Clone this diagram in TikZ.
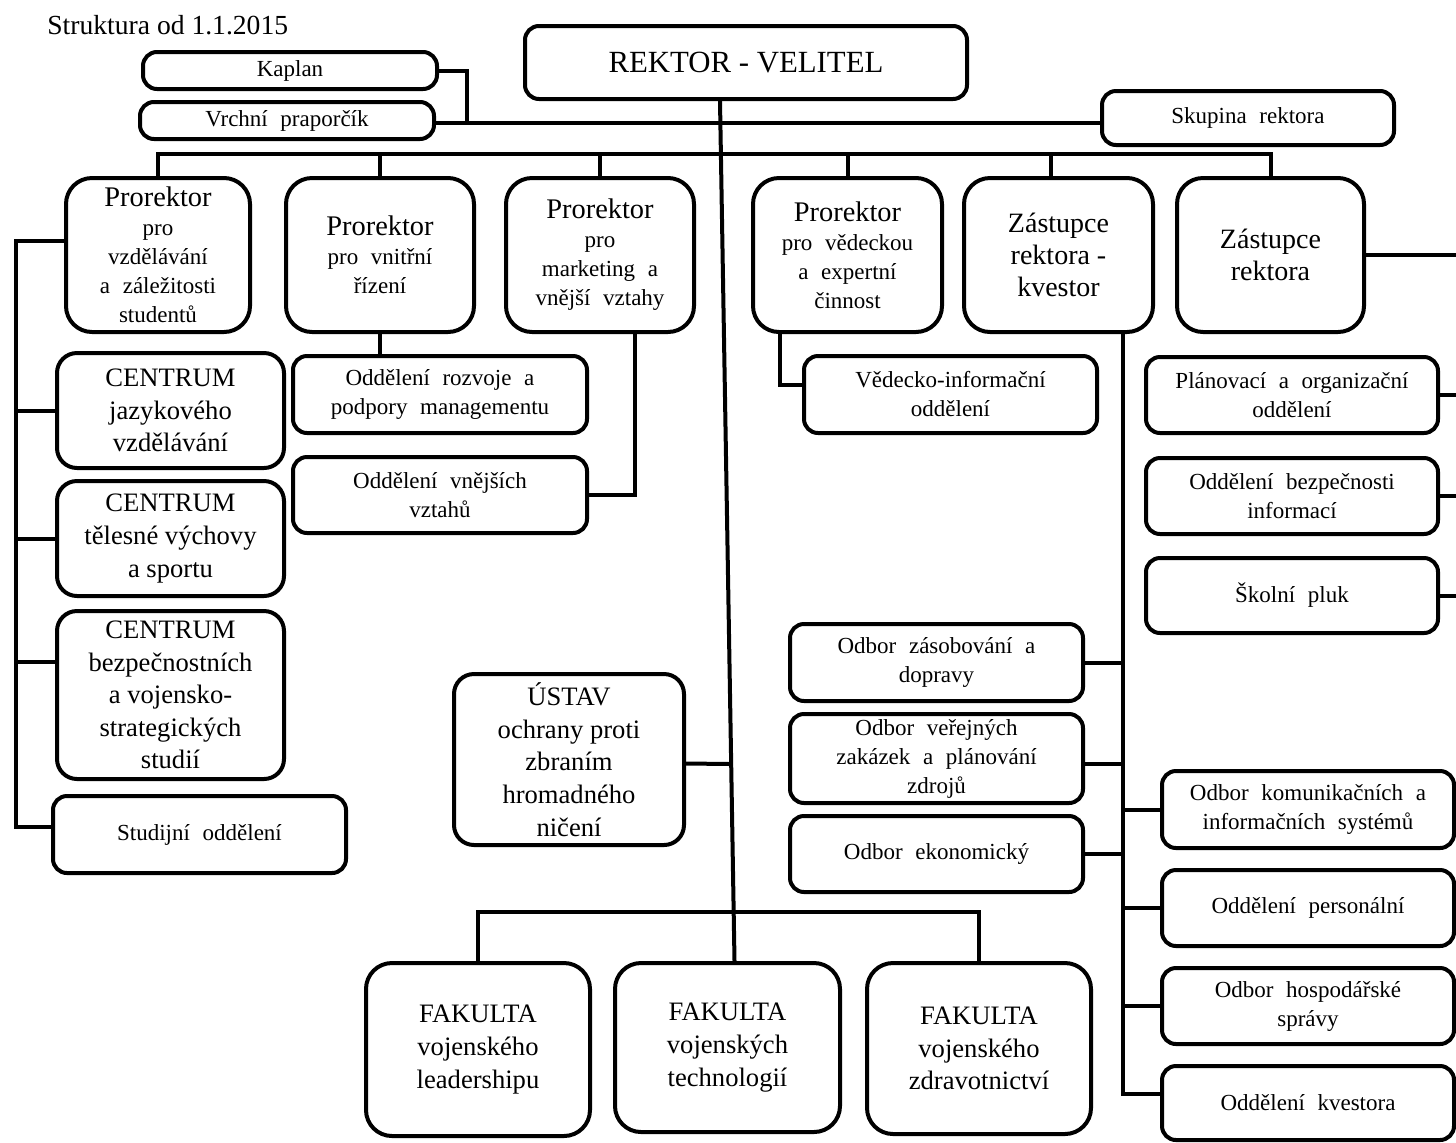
\documentclass[tikz,border=0pt]{standalone}
\usepackage{fontspec}
\setmainfont{Liberation Serif}
\newcommand\fs[2]{\fontsize{#1}{#2}\selectfont}
\newcommand\smfont{\fontsize{11.5}{14.5}\selectfont\spaceskip=0.55em plus 0.2em minus 0.1em\relax}
\tikzset{
  box/.style={draw, line width=2pt, inner sep=0pt, align=center, rounded corners=7pt},
  big/.style={rounded corners=13pt},
  mid/.style={rounded corners=10pt},
  sm/.style={font={\smfont}},
  cfont/.style={font={\fs{13.3}{16.3}}},
  pfont/.style={font={\fs{14}{16}}},
  conn/.style={draw, line width=2pt},
}
\newcommand\bx[7]{\node[box,#6,minimum width={(#4-#2)*0.5pt},minimum height={(#5-#3)*0.5pt}] (#1) at ({(#2+#4)/2},{(#3+#5)/2}) {#7};}
\begin{document}
\begin{tikzpicture}[x=0.5pt,y=-0.5pt]
\useasboundingbox (0,0) rectangle (1456,1142);
\node[anchor=west, font={\fs{13.8}{16}}, inner sep=0pt] (title) at (47,25) {Struktura od 1.1.2015};

\bx{kaplan}{143}{52}{437}{89}{sm}{Kaplan}
\bx{vrchni}{140}{102}{434}{139}{sm}{Vrchní praporčík}
\bx{rektor}{525}{26}{967}{99}{font={\fs{15.4}{18}}}{REKTOR - VELITEL}
\bx{skup}{1102}{91}{1394}{145}{sm}{Skupina rektora}

\bx{p1}{66}{178}{250}{332}{big,sm}{{\fs{14.2}{17}Prorektor}\\ pro\\ vzdělávání\\ a záležitosti\\ studentů}
\bx{p2}{286}{178}{474}{332}{big,sm}{{\fs{14.2}{17}Prorektor}\\ pro vnitřní\\ řízení}
\bx{p3}{506}{178}{694}{332}{big,sm}{{\fs{14.2}{17}Prorektor}\\ pro\\ marketing a\\ vnější vztahy}
\bx{p4}{753}{178}{942}{332}{big,sm}{{\fs{14.2}{17}Prorektor}\\ pro vědeckou\\ a expertní\\ činnost}
\bx{p5}{964}{178}{1153}{332}{big,pfont}{Zástupce\\ rektora -\\ kvestor}
\bx{p6}{1177}{178}{1364}{332}{big,pfont}{Zástupce\\ rektora}

\bx{c1}{57}{353}{284}{468}{mid,cfont}{CENTRUM\\ jazykového\\ vzdělávání}
\bx{c2}{57}{481}{284}{596}{mid,cfont}{CENTRUM\\ tělesné výchovy\\ a sportu}
\bx{c3}{57}{611}{284}{779}{mid,cfont}{CENTRUM\\ bezpečnostních\\ a vojensko-\\ strategických\\ studií}
\bx{stud}{53}{796}{346}{873}{sm}{Studijní oddělení}

\bx{ord}{293}{356}{587}{433}{sm}{Oddělení rozvoje a\\ podpory managementu}
\bx{ovv}{293}{457}{587}{533}{sm}{Oddělení vnějších\\ vztahů}
\bx{vio}{804}{356}{1097}{433}{sm}{Vědecko-informační\\ oddělení}
\bx{poo}{1146}{357}{1438}{433}{sm}{Plánovací a organizační\\ oddělení}
\bx{obi}{1146}{458}{1438}{534}{sm}{Oddělení bezpečnosti\\ informací}
\bx{skp}{1146}{558}{1438}{633}{sm}{Školní pluk}

\bx{ozd}{790}{624}{1083}{701}{sm}{Odbor zásobování a\\ dopravy}
\bx{ovz}{790}{714}{1083}{803}{sm}{Odbor veřejných\\ zakázek a plánování\\ zdrojů}
\bx{oek}{790}{816}{1083}{892}{sm}{Odbor ekonomický}
\bx{okis}{1162}{771}{1454}{848}{sm}{Odbor komunikačních a\\ informačních systémů}
\bx{ope}{1162}{870}{1454}{946}{sm}{Oddělení personální}
\bx{ohs}{1162}{968}{1454}{1044}{sm}{Odbor hospodářské\\ správy}
\bx{okv}{1162}{1066}{1454}{1140}{sm}{Oddělení kvestora}

\bx{ustav}{454}{674}{684}{845}{mid,cfont}{ÚSTAV\\ ochrany proti\\ zbraním\\ hromadného\\ ničení}
\bx{f1}{366}{963}{590}{1136}{big,cfont}{FAKULTA\\ vojenského\\ leadershipu}
\bx{f2}{615}{963}{840}{1132}{big,cfont}{FAKULTA\\ vojenských\\ technologií}
\bx{f3}{867}{963}{1091}{1134}{big,cfont}{FAKULTA\\ vojenského\\ zdravotnictví}

% coordinates
\coordinate (j1) at (467,123);
\coordinate (bus) at (0,154);
\coordinate (lb) at (16,0);
\coordinate (kb) at (1122,0);
\coordinate (re) at (1460,0);
\coordinate (bb) at (0,912);
\coordinate (mtop) at ([xshift=-13pt]rektor.south);
\coordinate (mbot) at ([xshift=3.5pt]f2.north);
\coordinate (mu) at (730,764);

% top connectors
\draw[conn] (kaplan.east) -| (j1);
\draw[conn] (vrchni.east |- j1) -- (skup.west |- j1);
\draw[conn] (mtop) -- (mbot);

% prorector bus
\draw[conn] (p1.north) -- (p1.north |- bus) -- (p6.north |- bus) -- (p6.north);
\draw[conn] (p2.north) -- (p2.north |- bus);
\draw[conn] (p3.north) -- (p3.north |- bus);
\draw[conn] (p4.north) -- (p4.north |- bus);
\draw[conn] ([xshift=-4pt]p5.north) -- ([xshift=-4pt]p5.north |- bus);

% left bus
\draw[conn] ([yshift=7pt]p1.west) -- ([yshift=7pt]p1.west -| lb) -- ([yshift=4pt]stud.west -| lb) -- ([yshift=4pt]stud.west);
\draw[conn] (c1.west) -- (c1.west -| lb);
\draw[conn] (c2.west) -- (c2.west -| lb);
\draw[conn] ([yshift=16.5pt]c3.west) -- ([yshift=16.5pt]c3.west -| lb);

% prorector subordinates
\draw[conn] (p2.south) -- (p2.south |- ord.north);
\draw[conn] ([xshift=17.5pt]p3.south) |- (ovv.east);
\draw[conn] ([xshift=-34pt]p4.south) |- ([yshift=5pt]vio.west);

% kvestor bus
\draw[conn] ([xshift=32pt]p5.south) |- ([yshift=4.5pt]okv.west);
\draw[conn] (ozd.east) -- (ozd.east -| kb);
\draw[conn] ([yshift=-2.5pt]ovz.east) -- ([yshift=-2.5pt]ovz.east -| kb);
\draw[conn] (oek.east) -- (oek.east -| kb);
\draw[conn] (okis.west) -- (okis.west -| kb);
\draw[conn] (ope.west) -- (ope.west -| kb);
\draw[conn] (ohs.west) -- (ohs.west -| kb);

% right edge
\draw[conn] (p6.east) -- (p6.east -| re);
\draw[conn] (poo.east) -- (poo.east -| re);
\draw[conn] (obi.east) -- (obi.east -| re);
\draw[conn] (skp.east) -- (skp.east -| re);

% ustav and faculties
\draw[conn] ([yshift=-2pt]ustav.east) -- (mu);
\draw[conn] (f1.north) -- (f1.north |- bb) -- (f3.north |- bb) -- (f3.north);
\end{tikzpicture}
\end{document}
